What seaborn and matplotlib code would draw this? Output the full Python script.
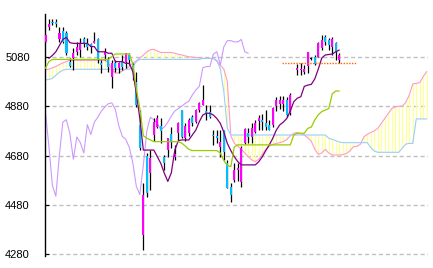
import numpy as np
import pandas as pd
import matplotlib
matplotlib.use("Agg")
import matplotlib.pyplot as plt
import seaborn as sns

nan = np.nan

# ---- candle data (index 0..84); slot 71 has no candle ----
opens = [5141, 5202, 5222, 5222, 5150, 5185, 5175, 5060, 5073, 5100,
         5107, 5150, 5137, 5130, 5134, 5150, 5056, 5087, 5067, 4999,
         5056, 5033, 5060, 5060, 5087, 5046, 4979, 4803, 4358, 4680,
         4610, 4763, 4797, 4800, 4675, 4702, 4767, 4675, 4770, 4864,
         4750, 4770, 4837, 4817, 4864, 4885, 4860, 4858, 4765, 4760,
         4716, 4783, 4650, 4554, 4581, 4620, 4574, 4729, 4772, 4756,
         4777, 4821, 4822, 4810, 4803, 4804, 4880, 4890, 4890, 4905,
         4851, nan, 5027, 5025, 5020, 5042, 5071, 5080, 5080, 5114,
         5161, 5148, 5121, 5134, 5067]
highs = [5170, 5231, 5231, 5231, 5199, 5202, 5185, 5073, 5114, 5141,
         5154, 5161, 5154, 5134, 5181, 5154, 5067, 5114, 5080, 5067,
         5067, 5060, 5087, 5096, 5094, 5053, 5019, 4864, 4568, 4690,
         4702, 4830, 4845, 4831, 4682, 4750, 4797, 4723, 4817, 4864,
         4810, 4830, 4845, 4870, 4898, 4965, 4885, 4885, 4783, 4783,
         4783, 4783, 4662, 4567, 4648, 4650, 4720, 4790, 4790, 4810,
         4824, 4844, 4850, 4864, 4824, 4878, 4915, 4920, 4920, 4915,
         4934, nan, 5050, 5053, 5045, 5100, 5080, 5085, 5140, 5168,
         5168, 5154, 5161, 5141, 5094]
lows = [5138, 5188, 5208, 5202, 5141, 5134, 5087, 5037, 5026, 5087,
        5080, 5121, 5107, 5094, 5134, 5056, 5013, 5067, 5019, 4952,
        5019, 5013, 5026, 5033, 5046, 4986, 4878, 4702, 4298, 4510,
        4540, 4740, 4790, 4729, 4621, 4675, 4709, 4662, 4743, 4750,
        4740, 4760, 4800, 4810, 4855, 4885, 4824, 4830, 4723, 4730,
        4675, 4662, 4547, 4490, 4574, 4575, 4554, 4725, 4730, 4730,
        4770, 4783, 4783, 4783, 4783, 4797, 4860, 4870, 4862, 4837,
        4844, nan, 5006, 5006, 5010, 5013, 5065, 5046, 5080, 5107,
        5128, 5107, 5087, 5067, 5053]
closes = [5168, 5212, 5215, 5214, 5177, 5141, 5094, 5042, 5094, 5118,
          5134, 5131, 5118, 5120, 5145, 5067, 5046, 5100, 5040, 5053,
          5033, 5053, 5040, 5094, 5067, 5026, 4885, 4709, 4520, 4530,
          4670, 4817, 4830, 4781, 4648, 4750, 4736, 4686, 4810, 4756,
          4800, 4824, 4810, 4864, 4891, 4905, 4850, 4837, 4758, 4752,
          4736, 4696, 4550, 4520, 4621, 4630, 4709, 4786, 4754, 4790,
          4810, 4830, 4815, 4797, 4783, 4871, 4905, 4905, 4905, 4844,
          4925, nan, 5035, 5032, 5030, 5100, 5071, 5050, 5134, 5148,
          5141, 5127, 5150, 5100, 5087]

# ---- Ichimoku lines ----
tenkan = [nan, 5073, 5085, 5100, 5125, 5150, 5158, 5137, 5134, 5134,
          5134, 5134, 5134, 5121, 5121, 5100, 5100, 5100, 5094, 5094,
          5060, 5060, 5060, 5053, 5053, 5019, 4932, 4830, 4702, 4702,
          4702, 4702, 4675, 4648, 4608, 4575, 4610, 4702, 4740, 4743,
          4743, 4743, 4763, 4783, 4817, 4844, 4851, 4851, 4844, 4830,
          4810, 4775, 4729, 4700, 4675, 4655, 4642, 4642, 4642, 4642,
          4642, 4655, 4675, 4700, 4723, 4750, 4783, 4804, 4815, 4830,
          4860, 4898, 4912, 4918, 4960, 4965, 4968, 4990, 5030, 5075,
          5087, 5089, 5091, 5100, 5107]
kijun = [5033, 5060, 5069, 5069, 5069, 5069, 5069, 5069, 5069, 5069,
         5069, 5069, 5069, 5069, 5069, 5069, 5069, 5069, 5069, 5080,
         5091, 5091, 5091, 5091, 5091, 5050, 4950, 4870, 4760, 4750,
         4743, 4736, 4736, 4736, 4736, 4736, 4736, 4736, 4736, 4730,
         4718, 4705, 4700, 4700, 4700, 4700, 4700, 4700, 4700, 4700,
         4690, 4660, 4640, 4635, 4715, 4723, 4723, 4723, 4723, 4723,
         4723, 4723, 4723, 4723, 4723, 4723, 4723, 4723, 4723, 4723,
         4723, 4763, 4770, 4770, 4770, 4790, 4795, 4824, 4845, 4858,
         4864, 4870, 4930, 4941, 4941]
senkou_a = [5026, 5030, 5035, 5040, 5048, 5055, 5060, 5065, 5065, 5065,
            5065, 5065, 5065, 5065, 5065, 5065, 5065, 5065, 5055, 5030,
            5013, 5015, 5022, 5030, 5040, 5055, 5063, 5075, 5087, 5100,
            5108, 5110, 5103, 5097, 5097, 5097, 5097, 5094, 5090, 5087,
            5083, 5080, 5078, 5077, 5076, 5073, 5073, 5073, 5073, 5062,
            5045, 5030, 4980, 4760, 4729, 4718, 4705, 4690, 4675, 4662,
            4655, 4665, 4685, 4705, 4718, 4725, 4729, 4732, 4736, 4745,
            4760, 4770, 4773, 4768, 4763, 4752, 4738, 4705, 4685, 4690,
            4705, 4690, 4682, 4682, 4682, 4683, 4688, 4698, 4715, 4717,
            4725, 4755, 4766, 4773, 4780, 4790, 4810, 4830, 4850, 4870,
            4877, 4879, 4880, 4895, 4925, 4970, 4972, 4975, 5000, 5020]
senkou_b = [4986, 4988, 4992, 5005, 5017, 5025, 5029, 5029, 5029, 5029,
            5029, 5029, 5029, 5029, 5029, 5029, 5029, 5029, 5029, 5029,
            5029, 5029, 5029, 5029, 5029, 5040, 5060, 5069, 5069, 5069,
            5069, 5069, 5069, 5069, 5069, 5069, 5069, 5069, 5069, 5069,
            5069, 5069, 5069, 5069, 5069, 5073, 5073, 5073, 5073, 5065,
            5030, 4940, 4790, 4763, 4763, 4763, 4763, 4763, 4763, 4763,
            4763, 4763, 4763, 4763, 4763, 4763, 4763, 4763, 4763, 4763,
            4763, 4763, 4763, 4763, 4763, 4763, 4763, 4763, 4763, 4763,
            4763, 4750, 4745, 4740, 4735, 4732, 4732, 4732, 4732, 4732,
            4732, 4732, 4732, 4712, 4698, 4693, 4693, 4693, 4693, 4693,
            4693, 4693, 4710, 4726, 4729, 4729, 4828, 4828, 4828, 4828]
chikou = [4858, 4720, 4560, 4515, 4680, 4815, 4825, 4770, 4665, 4755,
          4732, 4690, 4805, 4765, 4815, 4835, 4860, 4876, 4890, 4893,
          4866, 4800, 4757, 4745, 4712, 4650, 4555, 4522, 4640, 4780,
          4835, 4825, 4810, 4785, 4795, 4815, 4840, 4860, 4870, 4880,
          4891, 4900, 4925, 4945, 4960, 5035, 5040, 5040, 5090, 5100,
          5046, 5120, 5145, 5145, 5140, 5140, 5150, 5100, 5094]

price_line_level = 5054
y_ticks = [4280, 4480, 4680, 4880, 5080]

# ---- styling ----
sns.set_style("white")
plt.rcParams["font.family"] = ["Liberation Sans", "DejaVu Sans"]

UP = "#FF00FF"
DOWN = "#00BFFF"
LW = 0.8

fig = plt.figure(figsize=(4.33, 2.68), dpi=100)
ax = fig.add_axes([45 / 433, (268 - 256) / 268, 383 / 433, (256 - 14) / 268])

n_c = len(closes)
n_s = len(senkou_a)
idx_c = np.arange(n_c)
idx_s = np.arange(n_s)

# cloud hatching
sa = np.array(senkou_a, float)
sb = np.array(senkou_b, float)
ax.vlines(idx_s, np.minimum(sa, sb), np.maximum(sa, sb),
          colors="#FFFF99", linewidth=0.9, zorder=1)

line_df_s = pd.DataFrame({"i": idx_s, "a": sa, "b": sb})
sns.lineplot(data=line_df_s, x="i", y="a", ax=ax, color="#FF99CC",
             linewidth=LW, estimator=None, sort=False, zorder=2)
sns.lineplot(data=line_df_s, x="i", y="b", ax=ax, color="#99CCFF",
             linewidth=LW, estimator=None, sort=False, zorder=2)

chk_df = pd.DataFrame({"i": np.arange(len(chikou)), "v": chikou})
sns.lineplot(data=chk_df, x="i", y="v", ax=ax, color="#CC99FF",
             linewidth=LW, estimator=None, sort=False, zorder=2.5)

# candles
cdf = pd.DataFrame({"i": idx_c, "o": opens, "h": highs, "l": lows, "c": closes}).dropna()
ax.vlines(cdf["i"], cdf["l"], cdf["h"], colors="black", linewidth=0.9, zorder=3)
body_lo = np.minimum(cdf["o"], cdf["c"])
body_h = np.maximum(np.abs(cdf["c"] - cdf["o"]), 4)
cols = np.where(cdf["c"] > cdf["o"], UP, np.where(cdf["c"] < cdf["o"], DOWN, "black"))
ax.bar(cdf["i"], body_h, bottom=body_lo, width=0.66, color=cols,
       linewidth=0, zorder=4)

# tenkan / kijun
tk_df = pd.DataFrame({"i": idx_c, "t": tenkan, "k": kijun})
sns.lineplot(data=tk_df.dropna(subset=["t"]), x="i", y="t", ax=ax, color="#800080",
             linewidth=LW + 0.1, estimator=None, sort=False, zorder=5)
sns.lineplot(data=tk_df, x="i", y="k", ax=ax, color="#99CC00",
             linewidth=LW + 0.1, estimator=None, sort=False, zorder=5)

# dotted price line
ax.hlines(price_line_level, 67.6, 89, colors="#FF6600",
          linestyles=(0, (1, 1)), linewidth=1.0, zorder=6)

# axes
ax.set_xlim(-0.1, 109.35)
ax.set_ylim(4273.1, 5252.9)
ax.set_yticks(y_ticks)
ax.set_yticklabels([str(v) for v in y_ticks])
ax.set_xticks([])
ax.set_xlabel("")
ax.set_ylabel("")
ax.yaxis.grid(True, color="#C0C0C0", linestyle=(0, (3, 2)), linewidth=1.0)
ax.set_axisbelow(True)
for s in ["top", "right", "bottom"]:
    ax.spines[s].set_visible(False)
ax.spines["left"].set_color("black")
ax.spines["left"].set_linewidth(1.0)
ax.tick_params(axis="y", direction="in", length=3, width=0.8, pad=11,
               labelsize=8, colors="black", left=True)

fig.savefig("out.png", dpi=100)
